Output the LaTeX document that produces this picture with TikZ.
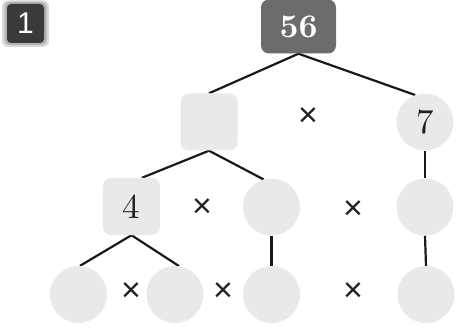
\documentclass[tikz,border=0pt]{standalone}
\usepackage{fontspec}
\newfontfamily\badgefont{Liberation Sans}
\newfontfamily\digitfont{lmroman10-regular.otf}
\newfontfamily\digitboldfont{lmroman10-bold.otf}
\usetikzlibrary{backgrounds}
\definecolor{nodegray}{HTML}{E9E9EB}
\definecolor{topgray}{HTML}{6B6C6E}
\definecolor{badgedark}{HTML}{3A3A3A}
\definecolor{inkdark}{HTML}{222222}
\tikzset{
  box/.style={fill=nodegray, rounded corners=8pt, minimum width=57pt, minimum height=57pt, inner sep=0pt, font=\digitfont\fontsize{35}{35}\selectfont, text=inkdark},
  topbox/.style={fill=topgray, rounded corners=8pt, minimum width=75pt, minimum height=54pt, inner sep=0pt, font=\digitboldfont\fontsize{33}{33}\selectfont, text=white},
  disc/.style={circle, fill=nodegray, minimum size=57pt, inner sep=0pt, font=\digitfont\fontsize{35}{35}\selectfont, text=inkdark},
  times/.style={inner sep=0pt, font=\badgefont\fontsize{34}{34}\selectfont, text=inkdark},
  link/.style={line width=2.2pt, black!90}
}
\begin{document}
\begin{tikzpicture}[x=1pt,y=-1pt]
\useasboundingbox (0,0) rectangle (456,329);
% badge
\fill[gray!30, rounded corners=6pt] (2,0.5) rectangle (49,47);
\fill[gray!60, rounded corners=5pt] (4.5,2) rectangle (46.5,45);
\node[fill=badgedark, rounded corners=4pt, minimum width=37pt, minimum height=39pt, inner sep=0pt, text=white, font=\badgefont\fontsize{30}{30}\selectfont] (badge) at (25.5,23.5) {1};
% nodes
\node[topbox] (n56) at (298.5,26.5) {56};
\node[box] (sq) at (209,122) {};
\node[times] (x1) at (308,117) {×};
\node[disc] (c7) at (425,122) {7};
\node[box] (b4) at (131.5,206.5) {4};
\node[times] (x2) at (202,208) {×};
\node[disc] (c2) at (271.5,207) {};
\node[times] (x3) at (353,210) {×};
\node[disc] (c3) at (425,207) {};
\node[disc] (d1) at (78.5,294.5) {};
\node[times] (x4) at (131,292) {×};
\node[disc] (d2) at (175,294.5) {};
\node[times] (x5) at (223,292) {×};
\node[disc] (d3) at (271.5,294.5) {};
\node[times] (x6) at (353,292) {×};
\node[disc] (d4) at (426,294.5) {};
% connectors
\begin{scope}[on background layer]
\draw[link] (sq.north) -- (n56.south) -- (c7.110);
\draw[link] (b4.70) -- (sq.south) -- (c2.106);
\draw[link] (d1.87) -- (b4.south) -- (d2.82);
\draw[link] (c2.south) -- (d3.north);
\draw[link] (c7.south) -- (c3.north);
\draw[link] (c3.south) -- (d4.north);
\end{scope}
\end{tikzpicture}
\end{document}
